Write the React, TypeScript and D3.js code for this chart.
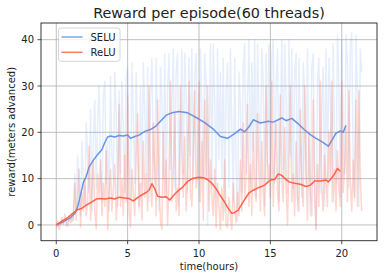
import React from "react";
import * as d3 from "d3";

// ---------- data ----------
const xTicks = [0, 5, 10, 15, 20];
const yTicks = [0, 10, 20, 30, 40];
const seriesNames = ["SELU", "ReLU"];

// raw rewards, one sample every 0.1 hours (0 .. 21.4h)
const rawStep = 0.1;
const seluRaw = [
  0.3, -0.4, 0.6, 0.1, 1.0, 0.4, 1.2, -0.2, 1.5, 0.8, 1.8, 0.6, 2.0,
  11, 3, 15, 6, 2, 18, 9,
  4, 22, 14, 7, 25, 3, 19, 27, 8, 23,
  30, 12, 5, 28, 31, 9, 18, 3, 32, 15,
  10, 33, 24, 4, 29, 11, 31, 20, 7, 32,
  34, 13, 6, 35, 22, 9, 33, 16, 3, 30,
  8, 35, 25, 11, 34, 5, 28, 36, 14, 9,
  36, 19, 3, 34, 27, 10, 37, 6, 30, 37,
  12, 26, 38, 8, 33, 37, 4, 21, 38, 11,
  37, 28, 7, 36, 15, 38, 9, 32, 37, 13,
  5, 38, 24, 10, 37, 31, 0, 17, 39, 8,
  39, 27, 6, 38, 14, 33, 10, 36, 3, 29,
  35, 8, 38, 21, 5, 36, 12, 1, 33, 26,
  7, 34, 39, 11, 28, 40, 9, 35, 16, 40,
  6, 39, 24, 10, 38, 31, 4, 37, 13, 39,
  -0.5, 36, 40, 9, 30, 38, 5, 22, 40, 12,
  39, 27, 7, 40, 15, 38, 8, 33, 37, 3,
  36, 20, 6, 35, 29, 9, 38, 14, 2, 34,
  37, 11, -1, 31, 36, 7, 25, 34, 4, 38,
  10, 36, 28, 5, 39, 17, 9, 41, 30, 6,
  40, 22, 11, 41, 35, 8, 39, 41.5, 14, 5,
  41, 27, 4, 38, 33,
];
const reluRaw = [
  -0.6, 0.9, -1.0, 0.4, 1.6, 0.2, 2.3, 0.7, -0.3, 1.9, 0.5, 2.4, 1.0,
  9, 1, 6, 12, -0.5, 7, 3,
  10, 2, 5, 17, 1, 8, 14, 3, -0.8, 11,
  6, 14, 2, 9, 4, 16, -1, 7, 12, 3,
  8, 13, 1, 6, 26, 4, 10, 2, 15, 5,
  28, 3, -0.5, 12, 7, 2, 15, 24, 4, 9,
  1, 18, 6, 11, 3, 30, 8, 4, 22, 13,
  2, 27, 9, 1, -1, 20, 6, 14, 0, 10,
  31, 5, 12, 24, 3, 8, 2, 30, 15, 6,
  19, 3, 11, 31, 7, 4, 16, 29, 8, 12,
  31, 5, 18, 1, 27, 10, 30, 3, 14, 6,
  2, 12, -0.5, 9, 4, -1, 8, 1, 14, 0,
  -0.5, 6, 2, -1, 9, 3, 0.5, 7, 2, 14,
  3, 22, 6, 10, 26, 4, 13, 2, 20, 8,
  5, 24, 11, 3, 18, 7, 2, 30, 9, 13,
  6, 31, 4, 15, 22, 7, 3, 28, 10, 5,
  21, 8, 0, 14, 30, 5, 11, 2, 18, 6,
  3, 25, 9, 4, 30, 12, 1, 20, 7, 2,
  27, 6, -1, 13, 4, 31, 8, 3, 15, 9,
  4, 20, 10, 31, 5, 12, 3, 16, 8, 4,
  31, 7, 12, 21, 5, 29, 9, 3, 14, 6,
  27, 4, 29, 10, 3,
];

// smoothed rewards
const seluHours = [
  0, 0.5, 1.0, 1.3, 1.5, 1.7, 1.9, 2.1, 2.3, 2.6, 2.9, 3.2, 3.4, 3.6, 3.8,
  4.1, 4.4, 4.7, 5.0, 5.2, 5.5, 5.8, 6.2, 6.6, 7.0, 7.3, 7.7, 8.1, 8.6, 9.2,
  9.8, 10.4, 11.0, 11.5, 12.0, 12.5, 12.9, 13.2, 13.5, 13.8, 14.3, 14.85,
  15.2, 15.8, 16.1, 16.5, 17.0, 17.4, 17.8, 18.2, 18.6, 19.06, 19.3, 19.6,
  19.9, 20.1, 20.3,
];
const seluSmooth = [
  0, 0.7, 1.6, 2.5, 3.9, 6.5, 9.2, 10.5, 12.5, 14.0, 15.2, 16.3, 17.8, 19.0, 19.2,
  19.0, 19.3, 19.2, 19.4, 18.7, 19.1, 19.4, 20.2, 20.6, 21.4, 22.4, 23.7, 24.2, 24.5, 24.2,
  23.2, 22.1, 20.7, 19.1, 18.7, 19.7, 20.7, 20.1, 21.2, 22.7, 22.0, 22.4,
  22.2, 23.1, 22.5, 23.0, 21.7, 20.5, 19.5, 18.7, 18.0, 17.0, 18.2, 19.8,
  20.3, 20.0, 21.5,
];
const reluHours = [
  0, 0.4, 0.8, 1.2, 1.5, 1.8, 2.1, 2.5, 2.8, 3.1, 3.4, 3.8, 4.1, 4.4, 4.8,
  5.1, 5.4, 5.7, 6.0, 6.3, 6.5, 6.7, 6.9, 7.1, 7.4, 7.7, 7.95, 8.2, 8.5, 8.8,
  9.2, 9.6, 10.0, 10.3, 10.6, 10.9, 11.2, 11.5, 11.8, 12.0, 12.3, 12.5, 12.75,
  13.0, 13.2, 13.5, 13.8, 14.2, 14.6, 15.0, 15.3, 15.55, 15.8, 16.0, 16.3,
  16.7, 17.1, 17.5, 17.8, 18.1, 18.5, 18.9, 19.05, 19.2, 19.5, 19.7, 19.9,
];
const reluSmooth = [
  0, 0.8, 1.6, 2.6, 3.3, 3.6, 4.3, 5.0, 5.6, 5.7, 5.6, 5.8, 5.6, 6.0, 5.8,
  5.7, 5.2, 5.9, 6.5, 7.0, 7.5, 8.9, 7.8, 6.2, 6.0, 6.1, 5.4, 6.3, 7.3, 8.0,
  9.4, 10.1, 10.3, 10.2, 9.8, 9.0, 7.8, 6.3, 4.9, 3.8, 2.5, 2.7, 3.2,
  4.5, 5.5, 6.9, 7.5, 8.1, 8.6, 9.7, 9.8, 11.0, 10.7, 10.1, 9.3,
  9.0, 8.8, 8.3, 8.6, 9.5, 9.5, 9.7, 9.3, 9.8, 11.0, 12.2, 11.6,
];

const SELU_COLOR = "#6495ED";
const RELU_COLOR = "#FF6347";
const FONT = "DejaVu Sans, sans-serif";

export default function App() {
  const W = 386;
  const H = 279;
  const left = 41, right = 377, top = 23, bottom = 240.7;

  const x = d3.scaleLinear().domain([-1.07, 22.47]).range([left, right]);
  const y = d3.scaleLinear().domain([-3.4, 43.6]).range([bottom, top]);

  const line = d3
    .line<[number, number]>()
    .x((d) => x(d[0]))
    .y((d) => y(d[1]));

  const rawPts = (arr: number[]) =>
    arr.map((v, i) => [i * rawStep, v] as [number, number]);
  const smoothPts = (hs: number[], vs: number[]) =>
    hs.map((h, i) => [h, vs[i]] as [number, number]);

  const colors = [SELU_COLOR, RELU_COLOR];

  return (
    <svg
      width={W}
      height={H}
      style={{ position: "absolute", left: 0, top: 0, background: "#fff" }}
      fontFamily={FONT}
    >
      <rect x={0} y={0} width={W} height={H} fill="#fff" />
      <defs>
        <clipPath id="plotclip">
          <rect x={left} y={top} width={right - left} height={bottom - top} />
        </clipPath>
      </defs>

      {/* grid */}
      <g stroke="#b0b0b0" strokeWidth={0.8}>
        {xTicks.map((t) => (
          <line key={"gx" + t} x1={x(t)} x2={x(t)} y1={top} y2={bottom} />
        ))}
        {yTicks.map((t) => (
          <line key={"gy" + t} x1={left} x2={right} y1={y(t)} y2={y(t)} />
        ))}
      </g>

      <g clipPath="url(#plotclip)" fill="none" strokeLinejoin="round">
        <path d={line(rawPts(seluRaw)) || ""} stroke={SELU_COLOR} strokeOpacity={0.16} strokeWidth={1.5} />
        <path d={line(smoothPts(seluHours, seluSmooth)) || ""} stroke={SELU_COLOR} strokeWidth={1.5} />
        <path d={line(rawPts(reluRaw)) || ""} stroke={RELU_COLOR} strokeOpacity={0.26} strokeWidth={1.5} />
        <path d={line(smoothPts(reluHours, reluSmooth)) || ""} stroke={RELU_COLOR} strokeWidth={1.5} />
      </g>

      {/* spines */}
      <rect x={left} y={top} width={right - left} height={bottom - top} fill="none" stroke="#222" strokeWidth={0.9} />

      {/* x ticks */}
      {xTicks.map((t) => (
        <g key={"xt" + t}>
          <line x1={x(t)} x2={x(t)} y1={bottom} y2={bottom + 3.5} stroke="#222" strokeWidth={0.8} />
          <text x={x(t)} y={257} textAnchor="middle" fontSize={10} fill="#222">
            {t}
          </text>
        </g>
      ))}
      {/* y ticks */}
      {yTicks.map((t) => (
        <g key={"yt" + t}>
          <line x1={left - 3.5} x2={left} y1={y(t)} y2={y(t)} stroke="#222" strokeWidth={0.8} />
          <text x={34} y={y(t) + 3.6} textAnchor="end" fontSize={10} fill="#222">
            {t}
          </text>
        </g>
      ))}

      {/* labels */}
      <text x={(left + right) / 2} y={18.3} textAnchor="middle" fontSize={14.4} fill="#222">
        Reward per episode(60 threads)
      </text>
      <text x={(left + right) / 2} y={270} textAnchor="middle" fontSize={10} fill="#222">
        time(hours)
      </text>
      <text
        transform={`translate(15,${(top + bottom) / 2}) rotate(-90)`}
        textAnchor="middle"
        fontSize={10}
        fill="#222"
      >
        reward(meters advanced)
      </text>

      {/* legend */}
      <g>
        <rect x={58.5} y={28} width={61.5} height={33.3} rx={2.5} fill="#fff" fillOpacity={0.8} stroke="#cccccc" strokeWidth={0.8} />
        {seriesNames.map((name, i) => (
          <g key={name}>
            <line x1={61.5} x2={82.5} y1={37 + i * 15.3} y2={37 + i * 15.3} stroke={colors[i]} strokeOpacity={0.85} strokeWidth={1.5} />
            <text x={90.5} y={37 + i * 15.3 + 3.6} fontSize={10} fill="#222">
              {name}
            </text>
          </g>
        ))}
      </g>
    </svg>
  );
}
